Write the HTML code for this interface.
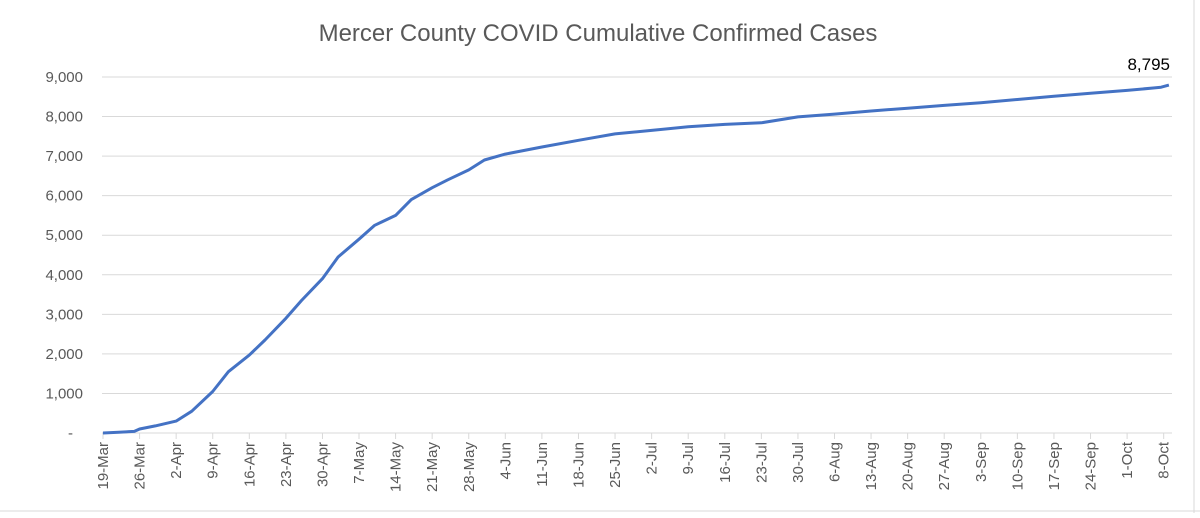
<!DOCTYPE html>
<html><head><meta charset="utf-8"><style>
body{margin:0;background:#fff;width:1200px;height:513px;overflow:hidden}
text{font-family:"Liberation Sans",sans-serif;fill:#595959}
</style></head><body>
<svg id="s" width="1200" height="513" xmlns="http://www.w3.org/2000/svg">
<text x="598" y="41" font-size="24" text-anchor="middle">Mercer County COVID Cumulative Confirmed Cases</text>
<line x1="0" y1="511" x2="1200" y2="511" stroke="#d9d9d9"/>
<line x1="1194" y1="0" x2="1194" y2="513" stroke="#d9d9d9"/>
<g id="g"></g>
<text x="1170" y="70" font-size="17" text-anchor="end" style="fill:#000">8,795</text>
</svg>
<script>
var g=document.getElementById('g'),h='';
function Y(v){return 433-v*0.03956;}
var lab=['-','1,000','2,000','3,000','4,000','5,000','6,000','7,000','8,000','9,000'];
for(var i=0;i<=9;i++){var y=Y(i*1000);
 if(i>0)h+='<line x1="102" y1="'+y+'" x2="1172" y2="'+y+'" stroke="#d9d9d9"/>';
 h+='<text x="'+(i==0?73:83)+'" y="'+(y+5)+'" font-size="15" text-anchor="end">'+lab[i]+'</text>';}
h+='<line x1="102" y1="433" x2="1172" y2="433" stroke="#d9d9d9"/>';
var dl=['19-Mar','26-Mar','2-Apr','9-Apr','16-Apr','23-Apr','30-Apr','7-May','14-May','21-May','28-May','4-Jun','11-Jun','18-Jun','25-Jun','2-Jul','9-Jul','16-Jul','23-Jul','30-Jul','6-Aug','13-Aug','20-Aug','27-Aug','3-Sep','10-Sep','17-Sep','24-Sep','1-Oct','8-Oct'];
function X(d){return 103+d*5.225;}
for(var k=0;k<dl.length;k++){var x=X(k*7);
 h+='<line x1="'+x+'" y1="433" x2="'+x+'" y2="439" stroke="#d9d9d9"/>';
 h+='<text transform="translate('+(x+5)+',442) rotate(-90)" font-size="15" text-anchor="end">'+dl[k]+'</text>';}
var kv=[[0,0],[3,20],[6,40],[7,100],[10,180],[14,300],[17,550],[21,1050],[24,1550],[28,1970],[31,2350],[35,2900],[38,3350],[42,3900],[45,4450],[49,4900],[52,5250],[56,5500],[59,5900],[63,6200],[66,6400],[70,6650],[73,6900],[77,7050],[84,7230],[91,7400],[98,7560],[105,7650],[112,7740],[119,7800],[126,7840],[133,7990],[140,8060],[147,8140],[154,8210],[161,8280],[168,8350],[175,8430],[182,8510],[189,8590],[196,8660],[201,8720],[202.5,8740],[204,8795]];
var p=kv.map(function(a){return X(a[0]).toFixed(1)+','+Y(a[1]).toFixed(1)}).join(' ');
h+='<polyline points="'+p+'" fill="none" stroke="#4472c4" stroke-width="3" stroke-linejoin="round"/>';
g.innerHTML=h;
</script>
</body></html>
